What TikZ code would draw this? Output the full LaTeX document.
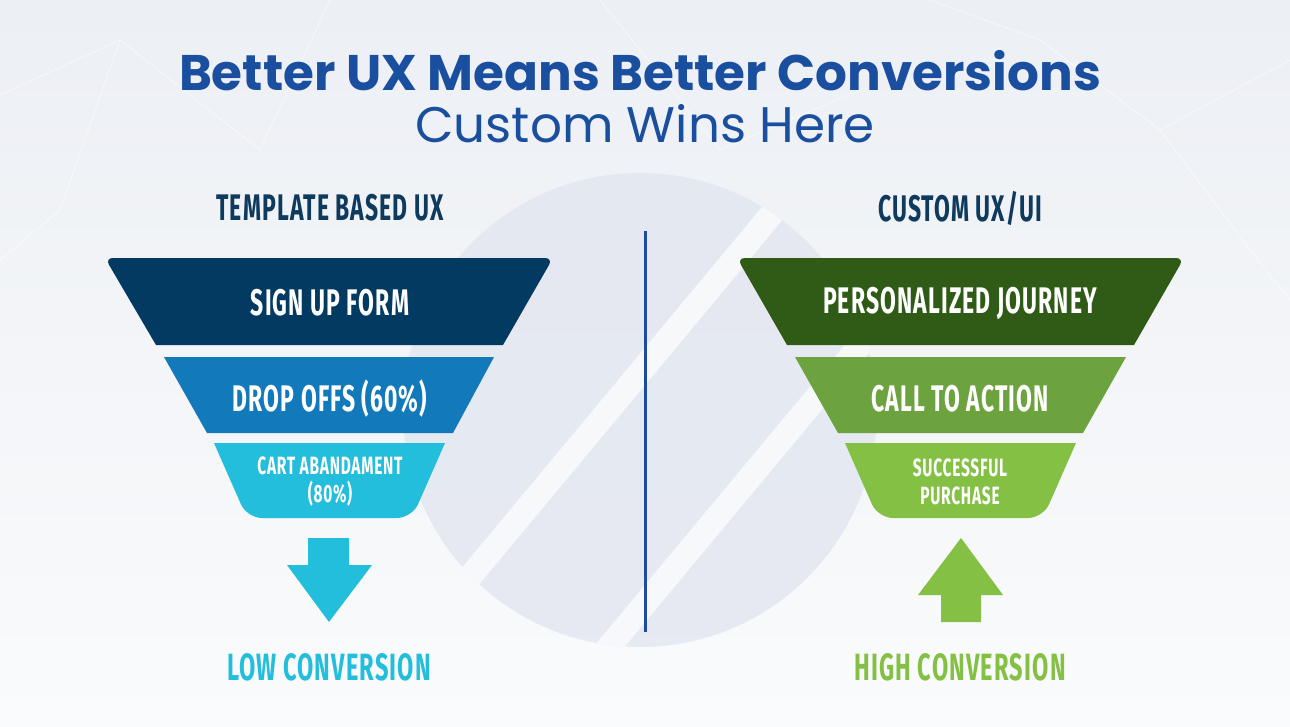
\documentclass[tikz,border=0pt]{standalone}
\usepackage{fontspec}
\usepackage{tikz}
\usetikzlibrary{positioning}
\newfontfamily\titlefont{Poppins}
\newfontfamily\condfont[FakeStretch=0.62,LetterSpace=3]{Fira Sans}
\definecolor{bgtop}{HTML}{ECEFF4}
\definecolor{bgbot}{HTML}{FAFBFC}
\definecolor{logogrey}{HTML}{E2E6F0}
\definecolor{titleblue}{HTML}{1A4E9E}
\definecolor{headnavy}{HTML}{0E3A5E}
\definecolor{divblue}{HTML}{1C4C9A}
\definecolor{navy}{HTML}{033A62}
\definecolor{midblue}{HTML}{1279BB}
\definecolor{skyblue}{HTML}{22BEDC}
\definecolor{darkgreen}{HTML}{2F5B17}
\definecolor{midgreen}{HTML}{6CA33E}
\definecolor{litegreen}{HTML}{84C044}

\begin{document}
\begin{tikzpicture}[
  x=1pt,y=-1pt,
  heading/.style={text=headnavy,font=\condfont\bfseries\fontsize{37}{40}\selectfont},
  lbl/.style={text=white,align=center,font=\condfont\bfseries\fontsize{37}{40}\selectfont},
  smalllbl/.style={text=white,align=center,font=\condfont\bfseries\fontsize{25}{28}\selectfont},
  result/.style={font=\condfont\bfseries\fontsize{38}{40}\selectfont},
  net/.style={white,line width=0.7pt,opacity=0.6}
]
\useasboundingbox (0,0) rectangle (1290,726);
\shade[top color=bgtop,bottom color=bgbot] (0,0) rectangle (1290,726);

% faint network in the background
\draw[net] (0,95) -- (120,40) -- (260,150) -- (330,0);
\draw[net] (120,40) -- (60,210) -- (0,260);
\draw[net] (1290,60) -- (1160,130) -- (1040,40) -- (930,0);
\draw[net] (1160,130) -- (1250,250) -- (1290,300);
\draw[net] (600,0) -- (720,150) -- (860,90);

% logo circle with stripes
\begin{scope}
  \clip (640,410) circle (237);
  \fill[logogrey,opacity=0.8] (640,410) circle (237);
  \draw[white,line width=24pt,opacity=0.7] (330,745) -- (850,120);
  \draw[white,line width=24pt,opacity=0.7] (440,850) -- (960,225);
\end{scope}

% title
\node[text=titleblue,font=\titlefont\bfseries\fontsize{50}{54}\selectfont]
  (title) at (640,71) {Better UX Means Better Conversions};
\node[text=titleblue,font=\titlefont\fontsize{50}{54}\selectfont]
  (subtitle) at (645,124) {Custom Wins Here};

\node[heading] (lefthead)  at (330,208) {TEMPLATE BASED UX};
\node[heading] (righthead) at (960,208) {CUSTOM UX/UI};

\draw[divblue,line width=3pt] (645,231) -- (645,632);

% template funnel
\fill[navy] (156,345) [rounded corners=8] -- (105,258) -- (553,258) [sharp corners] -- (503,345) -- cycle;
\fill[midblue] (164,357) -- (494,357) -- (453,433) -- (207,433) -- cycle;
\fill[skyblue] (214,443) -- (445,443) [rounded corners=15] -- (412,518) -- (247,518) [sharp corners] -- cycle;
\node[lbl] (signup)   at (330,303) {SIGN UP FORM};
\node[lbl] (dropoffs) at (330,399) {DROP OFFS (60\%)};
\node[smalllbl] (cart) at (330,482) {CART ABANDAMENT\\(80\%)};

% custom funnel
\fill[darkgreen] (787,345) [rounded corners=8] -- (737,258) -- (1184,258) [sharp corners] -- (1134,345) -- cycle;
\fill[midgreen] (795,357) -- (1126,357) -- (1083,433) -- (838,433) -- cycle;
\fill[litegreen] (845,443) -- (1076,443) [rounded corners=15] -- (1043,518) -- (878,518) [sharp corners] -- cycle;
\node[lbl] (journey) at (960,303) {PERSONALIZED JOURNEY};
\node[lbl] (cta)     at (960,399) {CALL TO ACTION};
\node[smalllbl] (purchase) at (960,482) {SUCCESSFUL\\PURCHASE};

% arrows
\fill[skyblue] (308,538) -- (349,538) -- (349,565) -- (372,565) -- (329,622) -- (287,565) -- (308,565) -- cycle;
\fill[litegreen] (961,538) -- (1003,595) -- (981,595) -- (981,622) -- (941,622) -- (941,595) -- (918,595) -- cycle;

\node[result,text=skyblue]   (low)  at (329,667) {LOW CONVERSION};
\node[result,text=litegreen] (high) at (960,667) {HIGH CONVERSION};
\end{tikzpicture}
\end{document}
